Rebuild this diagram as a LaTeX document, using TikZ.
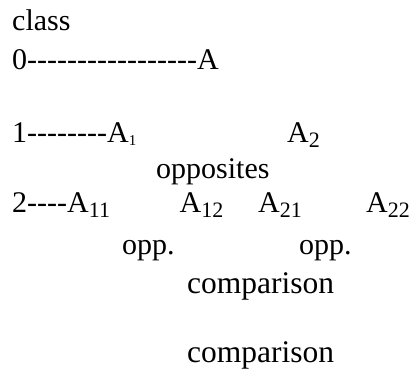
\documentclass[tikz,border=0pt]{standalone}
\usepackage{fontspec}
\setmainfont[Ligatures=TeXOff]{Liberation Serif}
\newfontfamily\tnr[Ligatures=TeXOff]{Liberation Serif}
\newcommand\subbig[1]{\raisebox{-5pt}{\fontsize{22}{22}\selectfont #1}}
\newcommand\subsmall[1]{\raisebox{-3pt}{\fontsize{15}{15}\selectfont #1}}
\begin{document}
\begin{tikzpicture}[x=1pt,y=-1pt,
  txt/.style={inner sep=0pt, anchor=base west, font=\tnr\fontsize{30}{36}\selectfont},
  bigtxt/.style={txt, font=\tnr\fontsize{31.5}{36}\selectfont}]
\useasboundingbox (0,0) rectangle (417,369);
\node[txt] (cls) at (12,31) {class};
\node[txt] (row0) at (12,70) {0-----------------A};
\node[txt] (row1) at (12,142) {1--------A\subsmall{1}};
\node[txt] (a2) at (287,142) {A\subbig{2}};
\node[txt] (opps) at (156,178) {opposites};
\node[txt] (row2) at (12,212) {2----A\subbig{11}};
\node[txt] (a12) at (179.5,212) {A\subbig{12}};
\node[txt] (a21) at (258,212) {A\subbig{21}};
\node[txt] (a22) at (366,212) {A\subbig{22}};
\node[txt] (oppa) at (122,254) {opp.};
\node[txt] (oppb) at (299,254) {opp.};
\node[bigtxt] (cmpa) at (187,293) {comparison};
\node[bigtxt] (cmpb) at (187,362) {comparison};
\end{tikzpicture}
\end{document}
